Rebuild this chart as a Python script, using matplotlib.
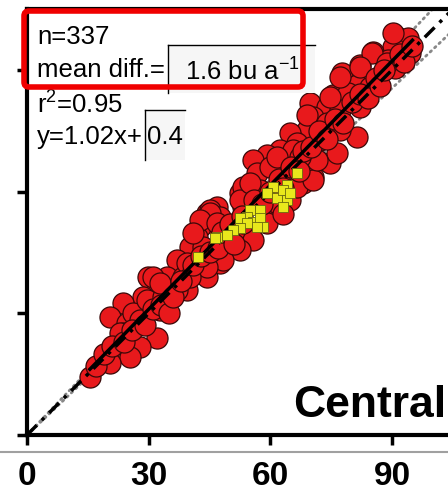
import numpy as np
import matplotlib
matplotlib.use('Agg')
import matplotlib.pyplot as plt
from matplotlib.lines import Line2D
from matplotlib.patches import FancyBboxPatch, Rectangle

plt.rcParams['font.family'] = ['Liberation Sans', 'DejaVu Sans']
plt.rcParams['mathtext.fontset'] = 'custom'
plt.rcParams['mathtext.rm'] = 'Liberation Sans'
plt.rcParams['mathtext.it'] = 'Liberation Sans'

# red points (all fields)
red_x = [91.2, 93.9, 94.4, 90.2, 85.3, 89.0, 90.7, 82.1, 77.6, 81.3, 84.5, 75.4, 79.1, 69.8, 73.9,
         77.2, 82.1, 81.3, 70.5, 73.9, 77.2, 69.0, 65.6, 72.2, 90.2, 85.0, 82.1, 77.2, 88.7, 74.7,
         69.0, 64.8, 62.4, 59.2, 55.7, 56.7, 55.0, 59.9, 66.6, 69.8, 70.5, 68.0, 64.8, 65.6, 52.5,
         53.2, 46.8, 44.4, 45.8, 42.6, 60.6, 59.2, 51.8,
         53.2, 52.5, 45.1, 47.6, 41.9, 40.2, 37.0, 34.5, 29.8, 38.5, 42.6, 46.8, 49.3, 52.5, 32.0,
         28.6, 23.7, 20.5, 34.5, 37.0, 27.9, 24.6, 39.4, 43.4,
         15.5, 22.2, 23.7, 32.0, 27.9, 25.4, 20.5, 22.9, 26.1, 29.6, 27.9, 32.8, 35.2, 39.4, 40.9,
         44.4, 47.6, 49.3, 51.8, 54.2,
         61.6, 66.6, 70.5, 74.7, 76.4, 71.5, 55.7, 52.5, 48.3, 44.4, 40.2, 37.0, 33.5, 31.1, 32.8,
         45.1, 42.6, 40.9, 46.8, 57.4, 55.0, 61.6, 67.3, 63.1, 53.2,
         17, 19, 21, 24, 26, 29, 31, 33, 35, 36, 38, 41, 43, 45, 47, 48, 50, 51, 53, 56, 58, 60,
         62, 63, 65, 67, 68, 70, 72, 74, 76, 78, 80, 82, 84, 86, 87, 88, 92, 93, 95]
red_y = [98.1, 97.9, 94.2, 95.6, 94.4, 92.4, 90.5, 91.2, 89.2, 86.3, 85.8, 83.8, 84.3, 81.8, 80.8,
         80.1, 80.8, 73.5, 78.4, 76.9, 75.2, 75.2, 72.7, 72.7, 99.1, 94.2, 90.7, 88.2, 91.7, 83.3,
         78.9, 74.4, 70.2, 69.0, 67.8, 64.6, 61.1, 66.1, 72.0, 67.0, 63.6, 62.1, 57.9, 70.2, 59.6,
         56.2, 56.2, 54.7, 52.3, 51.3, 56.2, 52.3, 50.5,
         61.1, 57.9, 55.5, 53.7, 48.8, 46.3, 43.1, 38.9, 38.9, 38.9, 39.9, 43.1, 47.3, 48.1, 35.7,
         34.0, 32.5, 29.1, 33.3, 36.5, 29.1, 27.6, 42.4, 46.3,
         14.3, 20.2, 25.1, 23.9, 21.7, 19.2, 17.7, 25.1, 30.1, 33.3, 28.3, 30.8, 35.7, 35.7, 39.9,
         38.9, 42.4, 46.3, 48.8, 48.1,
         57.2, 61.1, 62.9, 67.0, 69.5, 67.8, 48.1, 45.6, 43.1, 41.4, 38.9, 35.7, 34.0, 38.9, 37.5,
         54.7, 53.0, 49.8, 52.3, 60.4, 62.1, 68.5, 68.5, 54.5, 52.3,
         17, 20, 22, 23, 26, 27, 31, 32, 30, 34, 38, 42, 44, 45, 46, 50, 52, 47, 54, 58, 57, 60,
         63, 61, 66, 65, 70, 71, 75, 73, 78, 77, 82, 84, 83, 88, 86, 90, 94, 92, 96]

# yellow squares
yel_x = [66.6, 64.1, 60.6, 59.2, 61.6, 64.1, 63.1, 57.4, 55.0, 54.2, 52.5, 55.7, 57.4, 58.2,
         54.2, 52.5, 50.8, 49.3, 46.8, 42.1, 56.7, 63.1, 64.8, 46.3]
yel_y = [64.6, 61.6, 61.1, 59.6, 58.4, 57.9, 56.2, 55.5, 55.5, 53.7, 53.5, 52.5, 53.5, 51.3,
         52.3, 51.0, 50.5, 49.3, 48.8, 43.9, 51.3, 60.4, 59.6, 48.6]

slope, intercept = 1.02, 0.4
x_ticks = [0, 30, 60, 90]

fig = plt.figure(figsize=(4.48, 4.95), dpi=100)
ax = fig.add_axes([27 / 448, 1 - 435 / 495, 426 / 448, 426 / 495])
ax.set_xlim(0, 105)
ax.set_ylim(0, 105)

xx = np.array([0, 105])
ax.plot(xx, 1.05 * xx, color='#888888', lw=2, ls=(0, (0.6, 1.6)), zorder=1,
        dash_capstyle='round')
ax.plot(xx, 0.95 * xx, color='#888888', lw=2, ls=(0, (0.6, 1.6)), zorder=1,
        dash_capstyle='round')
ax.scatter(red_x, red_y, s=230, c='#e8191c', edgecolors='#3a0808', linewidths=0.9, zorder=2)
fx = np.array([min(red_x), max(red_x)])
ax.plot(fx, slope * fx + intercept, color='black', lw=2.5, zorder=3)
ax.plot(xx, xx, color='black', lw=2.5, ls=(0, (4, 2, 1, 2)), zorder=3)
ax.scatter(yel_x, yel_y, s=45, marker='s', c='#e8e81c', edgecolors='#6a6a10',
           linewidths=0.6, zorder=4)

for s in ['left', 'bottom', 'top', 'right']:
    ax.spines[s].set_linewidth(3)
ax.set_xticks(x_ticks)
ax.set_yticks([0, 30, 60, 90])
ax.set_yticklabels([])
ax.tick_params(direction='out', length=7, width=2.5, pad=12)
ax.tick_params(axis='x', labelsize=24)
for lab in ax.get_xticklabels():
    lab.set_fontweight('bold')

ax.text(0.985, 0.043, 'Central', transform=ax.transAxes, ha='right', va='baseline',
        fontsize=32, fontweight='bold')

# texts and boxes in pixel coordinates
tr = fig.dpi_scale_trans
def P(px, py):
    return px / 100, (495 - py) / 100

fig.patches.append(Rectangle(P(168, 93), 1.47, 0.48, transform=tr, facecolor='#f6f6f6',
                             edgecolor='none', zorder=0))
fig.patches.append(Rectangle(P(145, 160), 0.40, 0.50, transform=tr, facecolor='#f6f6f6',
                             edgecolor='none', zorder=0))
fs = 18.5
fig.text(*P(37, 37), 'n=337', transform=tr, fontsize=fs, va='center')
fig.text(*P(37, 70), 'mean diff.=', transform=tr, fontsize=fs, va='center')
fig.text(*P(185, 72), '1.6 bu a$^{-1}$', transform=tr, fontsize=fs, va='center')
fig.text(*P(37, 105), 'r$^{2}$=0.95', transform=tr, fontsize=fs, va='center')
fig.text(*P(37, 137), 'y=1.02x+', transform=tr, fontsize=fs, va='center')
fig.text(*P(147, 137), '0.4', transform=tr, fontsize=fs, va='center')

for (x0, y0), (x1, y1) in [((168, 45), (315, 45)), ((168, 45), (168, 93)),
                           ((145, 110), (185, 110)), ((145, 110), (145, 160))]:
    fig.add_artist(Line2D([P(x0, y0)[0], P(x1, y1)[0]], [P(x0, y0)[1], P(x1, y1)[1]],
                          transform=tr, color='black', lw=1))

fig.patches.append(FancyBboxPatch(P(24, 87), 2.79, 0.76, transform=tr,
                                  boxstyle='round,pad=0,rounding_size=0.05',
                                  facecolor='none', edgecolor='#f00000', lw=4, zorder=5))
fig.add_artist(Line2D([0, 1], [(495 - 452) / 495] * 2, color='#a0a0a0', lw=1.5))

fig.savefig('out.png', dpi=100)
